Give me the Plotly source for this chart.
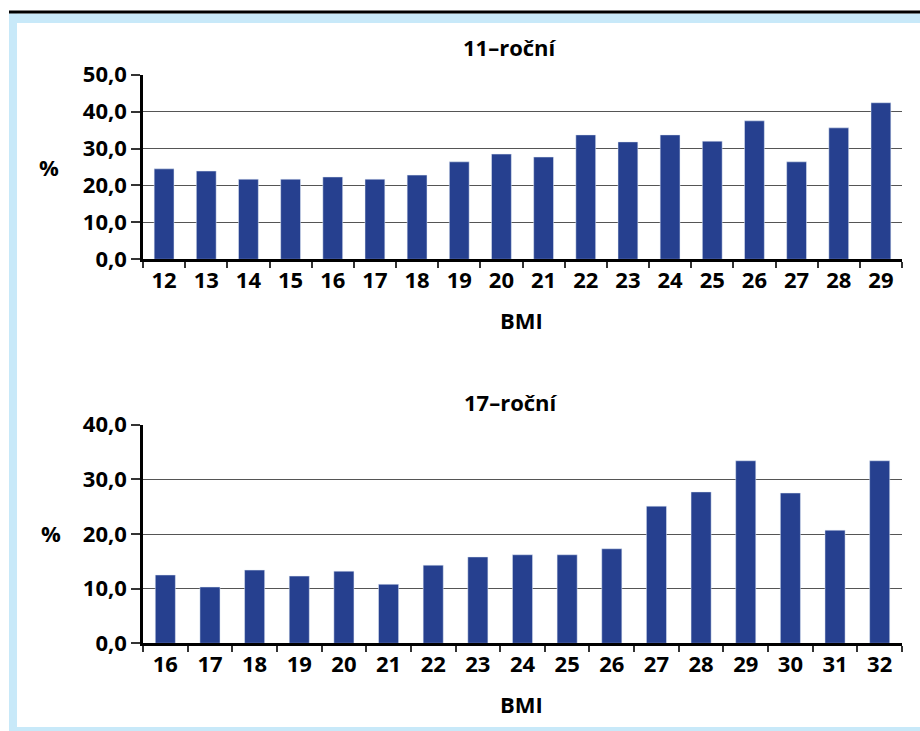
import plotly.graph_objects as go

# BMI categories and share (%) for each age group
bmi_11 = [str(v) for v in range(12, 30)]
pct_11 = [24.5, 23.9, 21.7, 21.7, 22.3, 21.7, 22.8, 26.4, 28.5, 27.7,
          33.7, 31.8, 33.7, 32.0, 37.5, 26.4, 35.6, 42.4]

bmi_17 = [str(v) for v in range(16, 33)]
pct_17 = [12.5, 10.3, 13.4, 12.3, 13.2, 10.8, 14.3, 15.8, 16.2, 16.2,
          17.3, 25.1, 27.7, 33.4, 27.5, 20.7, 33.4]

title_11 = "11–roční"
title_17 = "17–roční"
x_title = "BMI"
y_title = "%"

W, H = 920, 731
BAR = "#26408F"
FRAME = "#C8E9F9"
FONT = "Open Sans"
FS = 22


def px(x):
    return x / W


def py(y):
    return 1 - y / H


fig = go.Figure()
fig.add_trace(go.Bar(x=bmi_11, y=pct_11, marker_color=BAR, width=0.47,
                     xaxis="x", yaxis="y", showlegend=False))
fig.add_trace(go.Bar(x=bmi_17, y=pct_17, marker_color=BAR, width=0.45,
                     xaxis="x2", yaxis="y2", showlegend=False))

tick_font = dict(family=FONT, size=FS, color="black", weight="bold")
xcommon = dict(type="category", showline=True, linecolor="black", linewidth=2.5,
               ticks="outside", tickson="boundaries", ticklen=6, tickwidth=1.5,
               tickcolor="#333", showgrid=False, zeroline=False, automargin=False,
               tickfont=tick_font)
ycommon = dict(showline=True, linecolor="black", linewidth=2.5, ticks="outside",
               ticklen=9, tickwidth=1.5, tickcolor="#333", showgrid=True,
               gridcolor="#555555", gridwidth=1, zeroline=False, automargin=False,
               tickformat=".1f", tickfont=tick_font)

fig.update_layout(
    width=W, height=H,
    margin=dict(l=0, r=0, t=0, b=0, pad=0),
    paper_bgcolor="white", plot_bgcolor="rgba(0,0,0,0)",
    separators=", ",
    bargap=0.5,
    xaxis=dict(domain=[px(143), px(902)], anchor="y", **xcommon),
    yaxis=dict(domain=[py(259.3), py(74.7)], anchor="x", range=[0, 50],
               dtick=10, **ycommon),
    xaxis2=dict(domain=[px(143), px(902)], anchor="y2", **xcommon),
    yaxis2=dict(domain=[py(643.3), py(424.7)], anchor="x2", range=[0, 40],
                dtick=10, **ycommon),
)

# Light blue frame and black rule above it
shapes = [
    dict(type="rect", x0=px(9), x1=px(920), y0=py(13.5), y1=py(23), fillcolor=FRAME),
    dict(type="rect", x0=px(9), x1=px(17), y0=py(731), y1=py(13.5), fillcolor=FRAME),
    dict(type="rect", x0=px(9), x1=px(920), y0=py(731), y1=py(727), fillcolor=FRAME),
    dict(type="rect", x0=px(9), x1=px(920), y0=py(13.5), y1=py(10.5), fillcolor="black"),
]
for s in shapes:
    s.update(xref="paper", yref="paper", line=dict(width=0), layer="below")
fig.update_layout(shapes=shapes)

lab = dict(family=FONT, size=FS, color="black", weight="bold")
ann = [
    (title_11, 510, 47),
    (x_title, 521, 320),
    (y_title, 49, 167),
    (title_17, 511, 402),
    (x_title, 521, 704),
    (y_title, 51, 533),
]
for text, x, y in ann:
    fig.add_annotation(text=text, x=px(x), y=py(y), xref="paper", yref="paper",
                       xanchor="center", yanchor="middle", showarrow=False, font=lab)

fig.write_html("out.html")
